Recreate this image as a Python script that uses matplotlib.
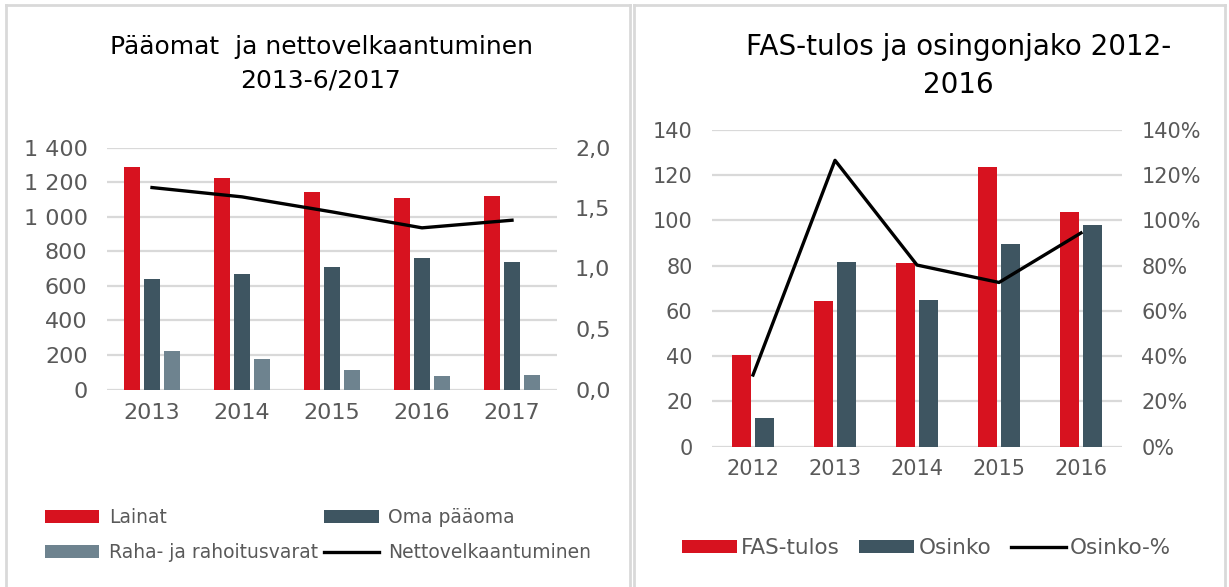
import matplotlib
matplotlib.use("Agg")
import matplotlib.pyplot as plt
import numpy as np
from matplotlib.patches import Patch
from matplotlib.lines import Line2D
from matplotlib.ticker import FuncFormatter, MultipleLocator

# ---------------- data ----------------
years_left = ['2013', '2014', '2015', '2016', '2017']
lainat = [1288, 1221, 1140, 1105, 1120]
oma_paaoma = [638, 667, 708, 761, 738]
raha_varat = [220, 179, 113, 79, 85]
nettovelkaantuminen = [1.669, 1.592, 1.468, 1.336, 1.399]

years_right = ['2012', '2013', '2014', '2015', '2016']
fas_tulos = [40.4, 64.4, 81.0, 123.5, 103.8]
osinko = [12.8, 81.7, 64.8, 89.8, 97.9]
osinko_pct = [31.7, 126.6, 80.3, 72.6, 94.5]

# ---------------- style ----------------
RED = '#d7121f'
DARK = '#3e5561'
LIGHT = '#6e838f'
GRID = '#d9d9d9'
TXT = '#595959'
plt.rcParams['font.family'] = ['DejaVu Sans']

W, H = 1229, 587
fig = plt.figure(figsize=(W / 100, H / 100), dpi=100)


def fx(px):
    return px / W


def fy(py):
    return 1 - py / H


def style_ax(ax, size, xpad, ypad):
    for s in ax.spines.values():
        s.set_visible(False)
    ax.tick_params(axis='both', length=0, labelsize=size, labelcolor=TXT)
    ax.tick_params(axis='x', pad=xpad)
    ax.tick_params(axis='y', pad=ypad)


# ---------------- left chart ----------------
axL = fig.add_axes([fx(107), fy(389.5), fx(557 - 107), (389.5 - 147.5) / H])
xL = np.arange(len(years_left))
bw = 0.178
off = 0.222
axL.bar(xL - off, lainat, bw, color=RED, zorder=3)
axL.bar(xL, oma_paaoma, bw, color=DARK, zorder=3)
axL.bar(xL + off, raha_varat, bw, color=LIGHT, zorder=3)
axL.set_ylim(0, 1400)
axL.set_xlim(-0.5, len(years_left) - 0.5)
axL.yaxis.set_major_locator(MultipleLocator(200))
axL.yaxis.set_major_formatter(FuncFormatter(lambda v, p: f"{int(v):,}".replace(",", " ")))
axL.set_xticks(xL)
axL.set_xticklabels(years_left)
axL.grid(axis='y', color=GRID, lw=1.6, zorder=0)
axL.set_axisbelow(True)
style_ax(axL, 16, 10, 14)

axL2 = axL.twinx()
axL2.plot(xL, nettovelkaantuminen, color='black', lw=2.4, zorder=5)
axL2.set_ylim(0, 2.0)
axL2.yaxis.set_major_locator(MultipleLocator(0.5))
axL2.yaxis.set_major_formatter(FuncFormatter(lambda v, p: f"{v:.1f}".replace(".", ",")))
style_ax(axL2, 16, 10, 13)

# ---------------- right chart ----------------
axR = fig.add_axes([fx(712), fy(446.7), fx(1122 - 712), (446.7 - 130) / H])
xR = np.arange(len(years_right))
bw2 = 0.225
off2 = 0.14
axR.bar(xR - off2, fas_tulos, bw2, color=RED, zorder=3)
axR.bar(xR + off2, osinko, bw2, color=DARK, zorder=3)
axR.set_ylim(0, 140)
axR.set_xlim(-0.5, len(years_right) - 0.5)
axR.yaxis.set_major_locator(MultipleLocator(20))
axR.set_xticks(xR)
axR.set_xticklabels(years_right)
axR.grid(axis='y', color=GRID, lw=1.6, zorder=0)
axR.set_axisbelow(True)
style_ax(axR, 15, 9, 14)

axR2 = axR.twinx()
axR2.plot(xR, osinko_pct, color='black', lw=2.4, zorder=5)
axR2.set_ylim(0, 140)
axR2.yaxis.set_major_locator(MultipleLocator(20))
axR2.yaxis.set_major_formatter(FuncFormatter(lambda v, p: f"{v:.0f}%"))
style_ax(axR2, 15, 9, 14)

# ---------------- titles ----------------
fig.text(fx(321), fy(54), "Pääomat  ja nettovelkaantuminen", ha='center', va='baseline',
         fontsize=18, color='black')
fig.text(fx(320), fy(88), "2013-6/2017", ha='center', va='baseline', fontsize=18, color='black')
fig.text(fx(959), fy(55), "FAS-tulos ja osingonjako 2012-", ha='center', va='baseline',
         fontsize=20, color='black')
fig.text(fx(958), fy(93), "2016", ha='center', va='baseline', fontsize=20, color='black')

# ---------------- legends ----------------
hL = [Patch(facecolor=RED), Patch(facecolor=LIGHT), Patch(facecolor=DARK),
      Line2D([0], [0], color='black', lw=2.4)]
lL = ['Lainat', 'Raha- ja rahoitusvarat', 'Oma pääoma', 'Nettovelkaantuminen']
fig.legend(hL, lL, ncol=2, loc='upper left', bbox_to_anchor=(fx(45), fy(508)),
           frameon=False, fontsize=13.5, labelcolor=TXT, handlelength=2.9, handleheight=0.65,
           handletextpad=0.5, columnspacing=0.35, labelspacing=0.85, borderpad=0,
           borderaxespad=0)

hR = [Patch(facecolor=RED), Patch(facecolor=DARK), Line2D([0], [0], color='black', lw=2.4)]
lR = ['FAS-tulos', 'Osinko', 'Osinko-%']
fig.legend(hR, lR, ncol=3, loc='upper left', bbox_to_anchor=(fx(682), fy(538)),
           frameon=False, fontsize=15.5, labelcolor=TXT, handlelength=2.55, handleheight=0.6,
           handletextpad=0.2, columnspacing=0.9, borderpad=0, borderaxespad=0)

# ---------------- panel borders ----------------
for x0, x1 in [(6, 630), (634, 1225)]:
    fig.add_artist(Line2D([fx(x0), fx(x0)], [fy(5), 0], color=GRID, lw=2, transform=fig.transFigure))
    fig.add_artist(Line2D([fx(x1), fx(x1)], [fy(5), 0], color=GRID, lw=2, transform=fig.transFigure))
    fig.add_artist(Line2D([fx(x0), fx(x1)], [fy(5), fy(5)], color=GRID, lw=2, transform=fig.transFigure))

fig.savefig('out.png', dpi=100, facecolor='white')
